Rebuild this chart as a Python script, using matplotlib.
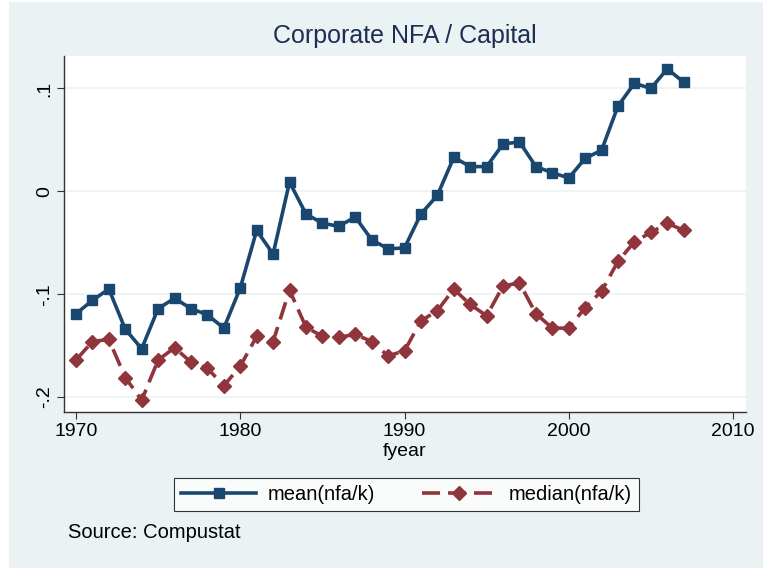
import numpy as np
import matplotlib
matplotlib.use("Agg")
from matplotlib import pyplot as plt
from matplotlib.patches import Rectangle

plt.rcParams['font.family'] = ['Liberation Sans', 'DejaVu Sans']

years = list(range(1970, 2008))
mean_nfa = [-0.119, -0.106, -0.095, -0.134, -0.153, -0.114, -0.104, -0.114, -0.120, -0.133,
            -0.094, -0.038, -0.061, 0.009, -0.022, -0.031, -0.034, -0.025, -0.047, -0.056,
            -0.055, -0.022, -0.004, 0.033, 0.024, 0.024, 0.046, 0.048, 0.024, 0.018,
            0.013, 0.032, 0.040, 0.083, 0.105, 0.100, 0.119, 0.106]
median_nfa = [-0.164, -0.146, -0.144, -0.181, -0.203, -0.164, -0.152, -0.166, -0.172, -0.189,
              -0.170, -0.141, -0.146, -0.096, -0.132, -0.141, -0.142, -0.139, -0.146, -0.160,
              -0.155, -0.126, -0.116, -0.095, -0.110, -0.121, -0.092, -0.089, -0.119, -0.133,
              -0.133, -0.113, -0.097, -0.068, -0.049, -0.040, -0.031, -0.038]
xticks = [1970, 1980, 1990, 2000, 2010]
yticks = [-0.2, -0.1, 0, 0.1]
ytick_labels = ['-.2', '-.1', '0', '.1']

bg = '#eaf2f3'
navy = '#1a476f'
maroon = '#90353b'

fig = plt.figure(figsize=(7.63, 5.68), dpi=100)
fig.patch.set_facecolor('white')
fig.patches.append(Rectangle((9/763, 0), 1, 1 - 2/568, transform=fig.transFigure,
                             facecolor=bg, edgecolor='none', zorder=-10))

ax = fig.add_axes([64/763, 1 - 412/568, (746 - 64)/763, (412 - 56)/568])
ax.set_facecolor('white')

ax.plot(years, mean_nfa, color=navy, lw=2.6, marker='s', ms=7.5, label='mean(nfa/k)')
ax.plot(years, median_nfa, color=maroon, lw=2.6, marker='D', ms=7, ls=(0, (5, 2.2)),
        label='median(nfa/k)')

ax.set_xlim(1969.27, 2010.79)
ax.set_ylim(-0.2145, 0.1315)
ax.set_xticks(xticks)
ax.set_yticks(yticks)
ax.set_yticklabels(ytick_labels, rotation=90, va='center')
ax.grid(axis='y', color=bg, lw=1.2)
ax.set_axisbelow(True)
for s in ['top', 'right']:
    ax.spines[s].set_visible(False)
for s in ['left', 'bottom']:
    ax.spines[s].set_color('#333333')
    ax.spines[s].set_linewidth(1.0)
ax.tick_params(labelsize=14, length=5, color='#333333', pad=3)
ax.set_xlabel('fyear', fontsize=14, labelpad=2)

ax.set_title('Corporate NFA / Capital', fontsize=18, color='#1e2d53', pad=9)

leg = fig.legend(loc='center', bbox_to_anchor=(406.5/763, 1 - 494.5/568), ncol=2,
                 fontsize=14.5, handlelength=3.7, handletextpad=0.6, columnspacing=2.3,
                 frameon=True, fancybox=False, edgecolor='black', borderpad=0.35)
leg.get_frame().set_linewidth(0.8)

fig.text(68/763, 1 - 533/568, 'Source: Compustat', fontsize=14.5, va='center', ha='left')

fig.savefig('out.png', dpi=100)
